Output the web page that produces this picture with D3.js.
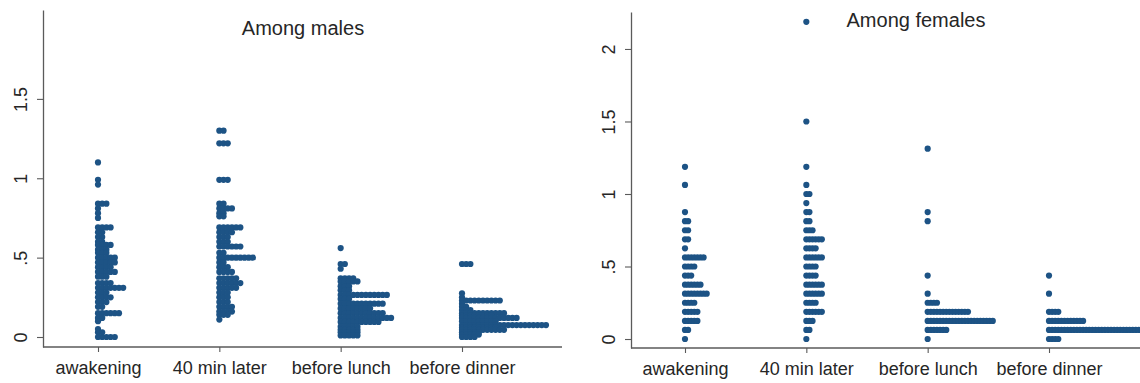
<!DOCTYPE html>
<html>
<head>
<meta charset="utf-8">
<script src="https://cdn.jsdelivr.net/npm/d3@7"></script>
<style>
  html, body { margin: 0; padding: 0; background: #fff; }
  svg { display: block; font-family: "Liberation Sans", Arial, sans-serif; }
</style>
</head>
<body>
<svg id="chart" width="1140" height="383"></svg>
<script>
const categories = ["awakening", "40 min later", "before lunch", "before dinner"];
const maleTicks = [0, 0.5, 1, 1.5];
const femaleTicks = [0, 0.5, 1, 1.5, 2];

// [value, number of subjects at that value]
const maleAwakening = [[1.10,1],[0.99,1],[0.96,1],[0.84,3],[0.81,1],[0.78,1],[0.75,1],
  [0.69,4],[0.66,2],[0.63,2],[0.60,2],[0.58,4],[0.55,3],[0.53,3],[0.50,5],[0.47,5],[0.44,4],
  [0.41,5],[0.38,3],[0.34,4],[0.31,7],[0.28,3],[0.25,4],[0.22,3],[0.19,2],[0.15,6],[0.12,2],
  [0.10,1],[0.05,1],[0.03,2],[0.0,5]];
const male40min = [[1.30,2],[1.22,3],[0.99,3],[0.84,2],[0.81,4],[0.78,2],[0.76,2],[0.69,6],
  [0.66,4],[0.63,3],[0.60,3],[0.57,6],[0.53,2],[0.50,9],[0.47,2],[0.44,3],[0.41,4],[0.37,5],
  [0.34,6],[0.31,5],[0.28,3],[0.25,3],[0.22,3],[0.19,4],[0.16,4],[0.14,3],[0.11,1]];
const maleLunch = [[0.56,1],[0.46,2],[0.43,1],[0.37,4],[0.35,5],[0.32,3],[0.295,3],[0.265,12],
  [0.24,3],[0.21,11],[0.18,8],[0.15,11],[0.12,13],[0.095,10],[0.065,5],[0.045,5],[0.03,5],[0.01,5]];
const maleDinner = [[0.46,3],[0.275,1],[0.25,1],[0.23,10],[0.21,1],[0.19,2],[0.17,3],[0.15,11],
  [0.135,8],[0.12,14],[0.10,9],[0.075,21],[0.06,9],[0.045,11],[0.03,5],[0.015,5],[0.0,4]];

const femaleAwakening = [[1.1875,1],[1.0625,1],[0.875,1],[0.8125,2],[0.75,2],[0.6875,2],[0.625,1],
  [0.5625,7],[0.5,4],[0.4375,3],[0.375,6],[0.3125,8],[0.25,4],[0.1875,5],[0.125,5],[0.0625,2],[0,1]];
const female40min = [[2.1875,1],[1.5,1],[1.1875,1],[1.0625,1],[1.0,2],[0.9375,1],[0.875,2],[0.8125,2],
  [0.75,3],[0.6875,6],[0.625,4],[0.5625,6],[0.5,4],[0.4375,4],[0.375,6],[0.3125,6],[0.25,4],
  [0.1875,6],[0.125,3],[0.0625,2],[0,1]];
const femaleLunch = [[1.3125,1],[0.875,1],[0.8125,1],[0.4375,1],[0.3125,1],[0.25,4],[0.1875,14],
  [0.125,22],[0.0625,7],[0,1]];
const femaleDinner = [[0.4375,1],[0.3125,1],[0.1875,4],[0.125,12],[0.0625,32],[0,4]];

const dotColor = "#1d5385";
const axisColor = "#5a5a5a";
const textColor = "#262626";

const svg = d3.select("#chart");

function fmt(v) {
  if (v === 0) return "0";
  if (v < 1) return String(v).replace(/^0/, "");
  return String(v);
}

function drawPanel(opt) {
  const g = svg.append("g");

  const y = d3.scaleLinear().domain(opt.yDomain).range([opt.yBottom, opt.yTop]);
  const x = d3.scalePoint().domain(categories).range(opt.xRange);

  // dots, stacked to the right of each category position
  opt.series.forEach((rows, i) => {
    const pts = [];
    rows.forEach(([v, n]) => {
      for (let k = 0; k < n; k++) pts.push({ v, k });
    });
    g.append("g").selectAll("circle")
      .data(pts)
      .join("circle")
      .attr("cx", d => x(categories[i]) + d.k * opt.gap)
      .attr("cy", d => y(d.v))
      .attr("r", opt.r)
      .attr("fill", dotColor);
  });

  // y axis
  const yAxis = g.append("g")
    .attr("transform", `translate(${opt.xLeft},0)`)
    .call(d3.axisLeft(y).tickValues(opt.ticks).tickFormat(fmt).tickSize(6).tickSizeOuter(0));
  yAxis.select(".domain").attr("stroke", axisColor).attr("stroke-width", 1.3);
  yAxis.selectAll(".tick line").attr("stroke", axisColor).attr("stroke-width", 1.1);
  yAxis.selectAll(".tick text")
    .attr("fill", textColor)
    .attr("font-size", 18)
    .attr("x", null).attr("dy", null)
    .attr("text-anchor", "middle")
    .attr("transform", "translate(-16,0) rotate(-90)");

  // x axis
  const xAxis = g.append("g")
    .attr("transform", `translate(0,${opt.yBottom})`)
    .call(d3.axisBottom(x).tickSize(5).tickSizeOuter(0));
  xAxis.select(".domain").remove();
  xAxis.append("line")
    .attr("x1", opt.xLeft).attr("x2", opt.xRight)
    .attr("stroke", axisColor).attr("stroke-width", 1.3);
  xAxis.selectAll(".tick line").attr("stroke", axisColor).attr("stroke-width", 1.1);
  xAxis.selectAll(".tick text")
    .attr("fill", textColor)
    .attr("font-size", 18)
    .attr("y", 27).attr("dy", null);

  g.append("text")
    .attr("x", opt.titleX).attr("y", opt.titleY)
    .attr("text-anchor", "middle")
    .attr("font-size", 20)
    .attr("fill", textColor)
    .text(opt.title);
}

drawPanel({
  title: "Among males",
  series: [maleAwakening, male40min, maleLunch, maleDinner],
  ticks: maleTicks,
  yDomain: [-0.063, 2.06], yBottom: 347, yTop: 10,
  xLeft: 43, xRight: 562, xRange: [98, 462],
  r: 3.1, gap: 4.2,
  titleX: 303, titleY: 35
});

drawPanel({
  title: "Among females",
  series: [femaleAwakening, female40min, femaleLunch, femaleDinner],
  ticks: femaleTicks,
  yDomain: [-0.062, 2.255], yBottom: 348, yTop: 12,
  xLeft: 631, xRight: 1140, xRange: [685, 1049],
  r: 3.1, gap: 3.1,
  titleX: 916, titleY: 27
});
</script>
</body>
</html>
